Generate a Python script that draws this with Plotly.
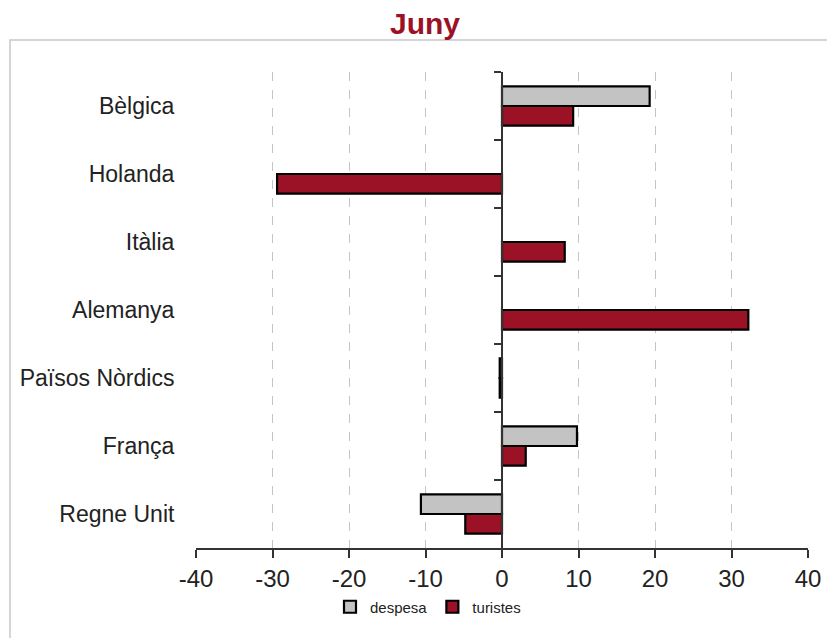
import plotly.graph_objects as go

# data (June, % change)
paisos = ["Bèlgica", "Holanda", "Itàlia", "Alemanya", "Països Nòrdics", "França", "Regne Unit"]
despesa = [19.3, None, None, None, -0.3, 9.8, -10.6]
turistes = [9.3, -29.4, 8.2, 32.2, -0.3, 3.1, -4.8]
x_ticks = [-40, -30, -20, -10, 0, 10, 20, 30, 40]

W, H = 827, 638
L, R, T, B = 196, 19, 72, 90
pw, ph = W - L - R, H - T - B

fig = go.Figure()
fig.add_trace(go.Bar(
    y=paisos, x=despesa, orientation="h", name="despesa",
    marker=dict(color="#c3c3c3", line=dict(color="black", width=2.2)),
))
fig.add_trace(go.Bar(
    y=paisos, x=turistes, orientation="h", name="turistes",
    marker=dict(color="#9b1226", line=dict(color="black", width=2.2)),
))
# invisible trace to carry the category axis drawn at x = 0
fig.add_trace(go.Scatter(
    y=paisos, x=[0] * len(paisos), yaxis="y2", mode="none",
    showlegend=False, hoverinfo="skip",
))

fig.update_layout(
    width=W, height=H,
    margin=dict(l=L, r=R, t=T, b=B),
    paper_bgcolor="white", plot_bgcolor="white",
    font=dict(family="Liberation Sans, Arial, sans-serif", color="#222222"),
    title=dict(text="<b>Juny</b>", x=425 / W, xanchor="center", y=1 - 23 / H,
               yanchor="middle", font=dict(size=30, color="#9b1226")),
    barmode="group", bargap=0.42, bargroupgap=0,
    xaxis=dict(
        range=[-40, 40], tickvals=x_ticks, ticktext=[str(v) for v in x_ticks],
        showgrid=True, gridcolor="#c4c4c4", griddash="dash", gridwidth=1,
        zeroline=False, showline=True, linecolor="#333333", linewidth=1.5,
        ticks="outside", ticklen=8, tickcolor="#333333", tickwidth=1.5,
        tickfont=dict(size=24, color="#222222"), automargin=False,
    ),
    yaxis=dict(
        categoryorder="array", categoryarray=paisos, range=[6.5, -0.5],
        showgrid=False, zeroline=False, showline=False,
        ticks="outside", ticklen=16, tickcolor="rgba(0,0,0,0)",
        tickfont=dict(size=23, color="#222222"), automargin=False,
    ),
    yaxis2=dict(
        overlaying="y", anchor="free", position=0.5,
        categoryorder="array", categoryarray=paisos, range=[6.5, -0.5],
        showgrid=False, zeroline=False, showticklabels=False,
        showline=True, linecolor="#333333", linewidth=1.5,
        ticks="outside", tickson="boundaries", ticklen=7,
        tickcolor="#333333", tickwidth=1.5, automargin=False,
    ),
    legend=dict(orientation="h", x=(428 - L) / pw, xanchor="center",
                y=-(607 - T - ph) / ph, yanchor="middle",
                font=dict(size=15, color="#222222"),
                itemwidth=30, tracegroupgap=0),
    showlegend=True,
)

# light outer frame around the chart area
fig.add_shape(type="rect", xref="paper", yref="paper",
              x0=(10 - L) / pw, x1=(845 - L) / pw,
              y0=-(648 - T - ph) / ph, y1=1 + (T - 40) / ph,
              line=dict(color="#c8c8c8", width=1.5), layer="below")

# drop the default 8px page margin so the figure fills the window exactly
fig.write_html("out.html", config={"displayModeBar": False},
               post_script="document.body.style.margin='0';"
                           "document.body.style.overflow='hidden';")
